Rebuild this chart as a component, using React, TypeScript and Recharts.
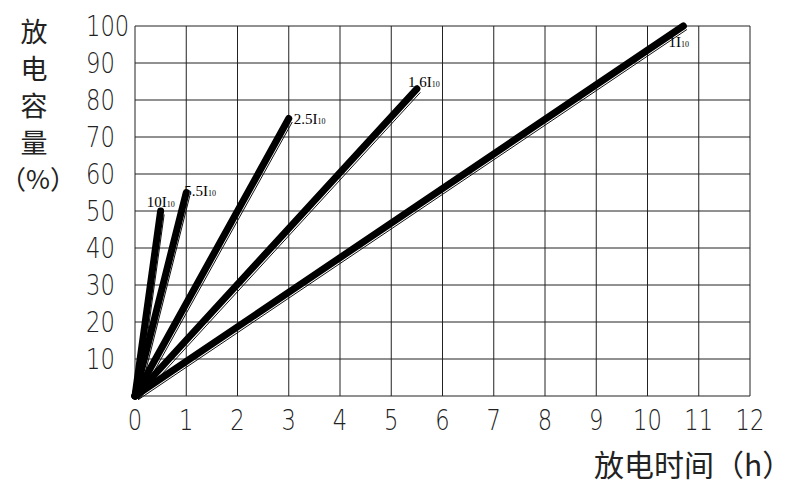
import React from 'react';
import { LineChart, Line, XAxis, YAxis, CartesianGrid } from 'recharts';

// discharge rate curves: start at origin, end at (hours, capacity %)
const rateNames = ['10I10', '5.5I10', '2.5I10', '1.6I10', '1I10'];
const rateMain = ['10I', '5.5I', '2.5I', '1.6I', '1I'];
const endHours = [0.5, 1, 3, 5.5, 10.7];
const endCapacity = [50, 55, 75, 83, 100];

const hourTicks = [0, 1, 2, 3, 4, 5, 6, 7, 8, 9, 10, 11, 12];
const capacityTicks = [0, 10, 20, 30, 40, 50, 60, 70, 80, 90, 100];

// label offset from the curve's end point (dx, dy) and anchor
const labelPlacement = [
    { dx: 0, dy: -4, anchor: 'middle' },
    { dx: -2, dy: 3, anchor: 'start' },
    { dx: 5, dy: 5, anchor: 'start' },
    { dx: -9, dy: -2, anchor: 'start' },
    { dx: -15, dy: 21, anchor: 'start' },
];

const series = rateNames.map((name, i) => ({
    name,
    data: [
        { t: 0, c: 0 },
        { t: endHours[i], c: endCapacity[i] },
    ],
}));

const TICK_FONT = '"DejaVu Sans", sans-serif';
const CJK_FONT = '"Noto Sans CJK SC", sans-serif';

const XTick = (props: any) => {
    const { x, payload } = props;
    return (
        <g transform={`translate(${x}, 420) scale(0.78, 1)`}>
            <text x={0} y={0} dy="0.36em" textAnchor="middle" fontFamily={TICK_FONT} fontWeight={200} fontSize={29} fill="#222">
                {payload.value}
            </text>
        </g>
    );
};

const YTick = (props: any) => {
    const { y, payload } = props;
    if (payload.value === 0) return null;
    return (
        <g transform={`translate(86, ${y}) scale(0.78, 1)`}>
            <text x={0} y={0} dy="0.36em" textAnchor="start" fontFamily={TICK_FONT} fontWeight={200} fontSize={29} fill="#222">
                {payload.value}
            </text>
        </g>
    );
};

const makeEndLabel = (i: number) => (props: any) => {
    const { x, y, index } = props;
    if (index !== 1) return null;
    const p = labelPlacement[i];
    return (
        <text x={x + p.dx} y={y + p.dy} textAnchor={p.anchor} fontFamily='"Liberation Serif", serif' fontSize={15} fill="#000" stroke="none">
            {rateMain[i]}
            <tspan fontSize={8}>10</tspan>
        </text>
    );
};

export default function App() {
    return (
        <div style={{ position: 'absolute', left: 0, top: 0, width: 799, height: 493, background: '#fff' }}>
            <LineChart width={799} height={493} margin={{ top: 26, right: 49, left: 0, bottom: 0 }}>
                <CartesianGrid stroke="#222" strokeWidth={1} />
                <XAxis
                    type="number"
                    dataKey="t"
                    domain={[0, 12]}
                    ticks={hourTicks}
                    interval={0}
                    height={97}
                    axisLine={false}
                    tickLine={false}
                    tick={<XTick />}
                />
                <YAxis
                    type="number"
                    dataKey="c"
                    domain={[0, 100]}
                    ticks={capacityTicks}
                    interval={0}
                    width={135}
                    axisLine={false}
                    tickLine={false}
                    tick={<YTick />}
                />
                {series.map((s) => (
                    <Line
                        key={s.name + '-edge'}
                        data={s.data}
                        dataKey="c"
                        stroke="#111"
                        strokeWidth={1}
                        dot={false}
                        activeDot={false}
                        transform="translate(3.5, 3.5)"
                        isAnimationActive={false}
                    />
                ))}
                {series.map((s, i) => (
                    <Line
                        key={s.name}
                        data={s.data}
                        dataKey="c"
                        stroke="#000"
                        strokeWidth={7}
                        strokeLinecap="round"
                        dot={false}
                        activeDot={false}
                        label={makeEndLabel(i)}
                        isAnimationActive={false}
                    />
                ))}
            </LineChart>
            <div
                style={{
                    position: 'absolute',
                    left: 19,
                    top: 12,
                    width: 30,
                    fontFamily: CJK_FONT,
                    fontSize: 27,
                    lineHeight: '37px',
                    color: '#222',
                    textAlign: 'center',
                }}
            >
                <div>放</div>
                <div>电</div>
                <div>容</div>
                <div>量</div>
            </div>
            <div
                style={{
                    position: 'absolute',
                    left: 0,
                    top: 159,
                    fontFamily: CJK_FONT,
                    fontSize: 26,
                    lineHeight: '37px',
                    color: '#222',
                    whiteSpace: 'nowrap',
                }}
            >
                （%）
            </div>
            <div
                style={{
                    position: 'absolute',
                    left: 594,
                    top: 445,
                    fontFamily: CJK_FONT,
                    fontSize: 30,
                    lineHeight: '36px',
                    color: '#222',
                    whiteSpace: 'nowrap',
                }}
            >
                放电时间（h）
            </div>
        </div>
    );
}
